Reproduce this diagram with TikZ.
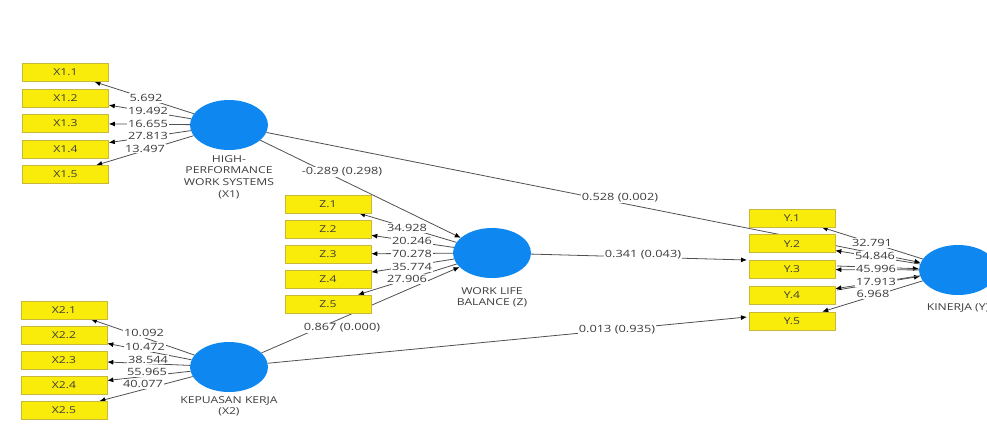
\documentclass[tikz,border=0pt]{standalone}
\usepackage{fontspec}
\setmainfont{Open Sans}[FakeStretch=1.28]
\usetikzlibrary{shapes.geometric,arrows.meta}
\pgfdeclarelayer{bg}
\pgfsetlayers{bg,main}
\definecolor{lvblue}{RGB}{14,136,240}
\definecolor{mvfill}{RGB}{250,236,10}
\definecolor{mvedge}{RGB}{200,185,60}
\definecolor{ink}{RGB}{60,60,60}
\definecolor{wirecol}{RGB}{80,80,80}

\begin{document}
\begin{tikzpicture}[x=1pt,y=-1pt,
  lv/.style={ellipse,fill=lvblue,minimum width=78pt,minimum height=50pt,inner sep=0pt},
  mv/.style={rectangle,draw=mvedge,line width=0.6pt,fill=mvfill,minimum width=86pt,
    minimum height=18pt,inner sep=0pt,text=ink,font=\fontsize{9.5}{11}\selectfont},
  lvlab/.style={align=center,text=ink,font=\fontsize{9.5}{11.8}\selectfont,inner sep=0pt},
  num/.style={fill=white,inner sep=1pt,text=ink,font=\fontsize{10}{12}\selectfont},
  wire/.style={draw=wirecol,line width=0.8pt,-{Latex[length=6pt,width=5pt,color=black]}},
]
\useasboundingbox (0,0) rectangle (987,423);
\clip (0,0) rectangle (987,423);

% latent variables
\node[lv] (X1) at (229,125) {};
\node[lv] (Z)  at (492,253) {};
\node[lv] (X2) at (229,367) {};
\node[lv] (Y)  at (958,270) {};

\node[lvlab,anchor=north] at (229,155) {HIGH-\\PERFORMANCE\\WORK SYSTEMS\\(X1)};
\node[lvlab,anchor=north] at (492,287) {WORK LIFE\\BALANCE (Z)};
\node[lvlab,anchor=north] at (229,396) {KEPUASAN KERJA\\(X2)};
\node[lvlab,anchor=north] at (958,303) {KINERJA (Y)};

% indicators
\foreach \i in {1,...,5} {
  \node[mv] (x1\i) at (65.5,{72.5+25.5*(\i-1)}) {X1.\i};
  \node[mv] (z\i)  at (328,{204+25*(\i-1)}) {Z.\i};
  \node[mv] (x2\i) at (64,{310+25.1*(\i-1)}) {X2.\i};
  \node[mv] (y\i)  at (792,{218+25.75*(\i-1)}) {Y.\i};
}

\coordinate (zend)  at (747,260);
\coordinate (x2end) at (747,317);
\coordinate (y3out) at (837,266);
\coordinate (y4out) at (837,290);

\begin{pgfonlayer}{bg}
  % structural paths
  \draw[wire] (X1) -- (Y);
  \draw[wire] (X1) -- (Z);
  \draw[wire] (X2) -- (Z);
  \draw[wire] (Z) -- (zend);
  \draw[wire] (X2) -- (x2end);
  \draw[wire] (y3out) -- (Y);
  \draw[wire] (y4out) -- (Y);
  % outer loadings
  \foreach \i in {1,...,5} {
    \draw[wire] (X1) -- (x1\i);
    \draw[wire] (Z)  -- (z\i);
    \draw[wire] (X2) -- (x2\i);
    \draw[wire] (Y)  -- (y\i);
  }
\end{pgfonlayer}

% t-values of the outer loadings
\foreach \t/\px/\py in {5.692/146/98, 19.492/148/111, 16.655/148/123.5, 27.813/148/136, 13.497/145/148.5,
  34.928/407/228, 20.246/412/241, 70.278/412/254, 35.774/412/267, 27.906/407/279,
  10.092/144/333, 10.472/145/347, 38.544/148/359.5, 55.965/147/372, 40.077/143/384,
  32.791/872/243, 54.846/875/256, 45.996/876/269, 17.913/876/282, 6.968/873/294}
  \node[num] at (\px,\py) {\t};

% path coefficients (p-values)
\foreach \t/\px/\py in {-0.289 (0.298)/342/172, 0.528 (0.002)/620/198, 0.341 (0.043)/643/255,
  0.867 (0.000)/342/328, 0.013 (0.935)/617/330}
  \node[num] at (\px,\py) {\t};
\end{tikzpicture}
\end{document}
